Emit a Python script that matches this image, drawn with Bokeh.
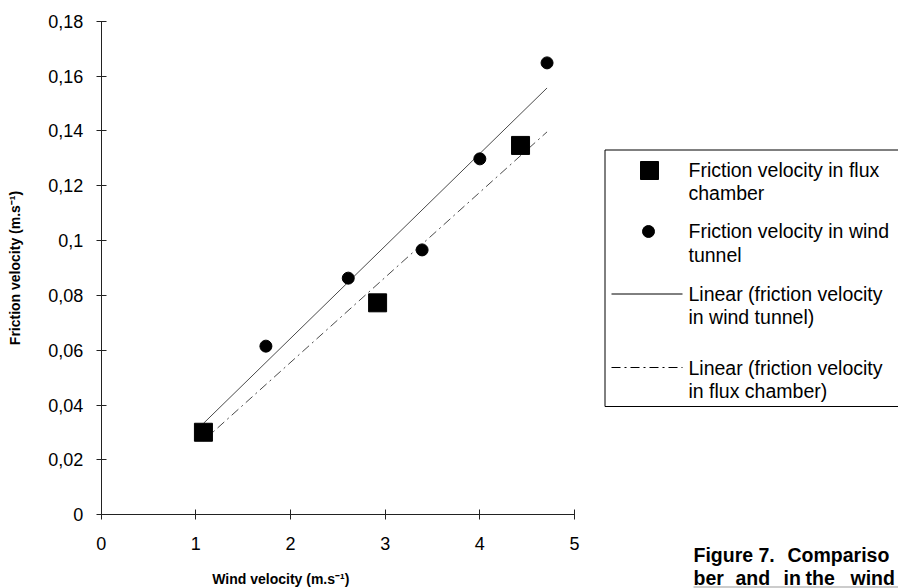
import numpy as np
from bokeh.plotting import figure
from bokeh.models import Range1d, FixedTicker
from bokeh.core.properties import value
from bokeh.embed import file_html
from bokeh.resources import INLINE

# ---- data ----
flux_x = [1.08, 2.92, 4.43]
flux_y = [0.0301, 0.0773, 0.1347]
tunnel_x = [1.74, 2.61, 3.39, 4.00, 4.71]
tunnel_y = [0.0615, 0.0863, 0.0966, 0.1298, 0.1648]

x_ticks = [0, 1, 2, 3, 4, 5]
y_ticks = [0, 0.02, 0.04, 0.06, 0.08, 0.10, 0.12, 0.14, 0.16, 0.18]
y_tick_labels = ["0", "0,02", "0,04", "0,06", "0,08", "0,1", "0,12", "0,14", "0,16", "0,18"]

x_title = "Wind velocity (m.s\u207b\u00b9)"
y_title = "Friction velocity (m.s\u207b\u00b9)"

legend_lines = [
    "Friction velocity in flux", "chamber",
    "Friction velocity in wind", "tunnel",
    "Linear (friction velocity", "in wind tunnel)",
    "Linear (friction velocity", "in flux chamber)",
]
caption_line1 = ["Figure", "7.", "Compariso"]
caption_line2 = ["ber", "and", "in", "the", "wind"]

FONT = "Liberation Sans"

# ---- linear trend lines (least squares) ----
all_x = flux_x + tunnel_x
x_lo, x_hi = min(all_x), max(all_x)
t_slope, t_icpt = np.polyfit(tunnel_x, tunnel_y, 1)
f_slope, f_icpt = np.polyfit(flux_x, flux_y, 1)
trend_x = [x_lo, x_hi]
tunnel_fit = [t_slope * v + t_icpt for v in trend_x]
flux_fit = [f_slope * v + f_icpt for v in trend_x]

# ---- page / plot-area geometry (pixels) ----
W, H = 898, 588
AX_L, AX_R = 100.7, 574.0     # x = 0 .. 5
AX_B, AX_T = 514.3, 20.7      # y = 0 .. 0.18
X0, X1 = x_ticks[0], x_ticks[-1]
Y0, Y1 = y_ticks[0], y_ticks[-1]
kx = (AX_R - AX_L) / (X1 - X0)
ky = (AX_B - AX_T) / (Y1 - Y0)
x_range = Range1d(X0 - AX_L / kx, X1 + (W - AX_R) / kx)
y_range = Range1d(Y0 - (H - AX_B) / ky, Y1 + AX_T / ky)

p = figure(width=W, height=H, output_backend="svg", toolbar_location=None,
           x_range=x_range, y_range=y_range, min_border=0)
p.title = None
p.outline_line_color = None
p.grid.visible = False
p.extra_x_ranges = {"px": Range1d(0, W)}
p.extra_y_ranges = {"px": Range1d(H, 0)}

p.xaxis.ticker = FixedTicker(ticks=x_ticks)
p.yaxis.ticker = FixedTicker(ticks=y_ticks)
p.yaxis.major_label_overrides = {t: l for t, l in zip(y_ticks, y_tick_labels)}
p.xaxis.fixed_location = Y0
p.yaxis.fixed_location = X0
p.xaxis.bounds = (X0, X1)
p.yaxis.bounds = (Y0, Y1)
for ax in (p.xaxis, p.yaxis):
    ax.minor_tick_line_color = None
    ax.major_tick_in = 5
    ax.major_tick_out = 5
    ax.axis_line_color = "#222222"
    ax.major_tick_line_color = "#222222"
    ax.major_label_text_font = FONT
    ax.major_label_text_font_size = "18px"
    ax.major_label_text_color = "black"
p.xaxis.major_label_standoff = 17
p.yaxis.major_label_standoff = 13

p.yaxis.axis_label = y_title
p.yaxis.axis_label_text_font = FONT
p.yaxis.axis_label_text_font_style = "bold"
p.yaxis.axis_label_text_font_size = "14px"
p.yaxis.axis_label_text_color = "black"
p.yaxis.axis_label_standoff = 22

# data marks
p.line(trend_x, tunnel_fit, line_color="#4a4a4a", line_width=1)
p.line(trend_x, flux_fit, line_color="#4a4a4a", line_width=1, line_dash="9 4 2 4")
p.scatter(tunnel_x, tunnel_y, marker="circle", size=12, color="black")
p.scatter(flux_x, flux_y, marker="square", size=18, color="black")

# x axis title (off-centre, as in the reference)
px = dict(x_range_name="px", y_range_name="px")
p.text(x=[280.3], y=[578], text=[x_title], text_font=value(FONT),
       text_font_size=value("14px"), text_font_style="bold",
       text_align="center", text_baseline="middle", text_color="black", **px)

# ---- legend (page pixel coordinates) ----
p.quad(left=[604.5], right=[940], top=[149.5], bottom=[406], fill_color=None,
       line_color="black", line_width=1, **px)
p.scatter([649], [170], marker="square", size=18, color="black", **px)
p.scatter([648], [231], marker="circle", size=12, color="black", **px)
p.line([611, 682], [293.5, 293.5], line_color="black", line_width=1, **px)
p.line([611, 682], [367, 367], line_color="black", line_width=1, line_dash="9 4 2 4", **px)

legend_y = [169, 192.5, 230.5, 254, 293, 316.5, 367.5, 390.5]
p.text(x=[688] * len(legend_lines), y=legend_y, text=legend_lines,
       text_font=value(FONT), text_font_size=value("19.5px"),
       text_baseline="middle", text_align="left", text_color="black", **px)

# ---- caption fragment ----
cap1_x = [693, 758, 787]
cap2_x = [693, 735, 783, 805, 850]
p.text(x=cap1_x, y=[554] * 3, text=caption_line1, text_font=value(FONT),
       text_font_size=value("19.5px"), text_font_style="bold",
       text_baseline="middle", text_align="left", text_color="black", **px)
p.text(x=cap2_x, y=[577] * 5, text=caption_line2, text_font=value(FONT),
       text_font_size=value("19.5px"), text_font_style="bold",
       text_baseline="middle", text_align="left", text_color="black", **px)
p.line([693, 898], [586.5, 586.5], line_color="#999999", line_width=1, **px)

open("out.html", "w").write(file_html(p, INLINE))
